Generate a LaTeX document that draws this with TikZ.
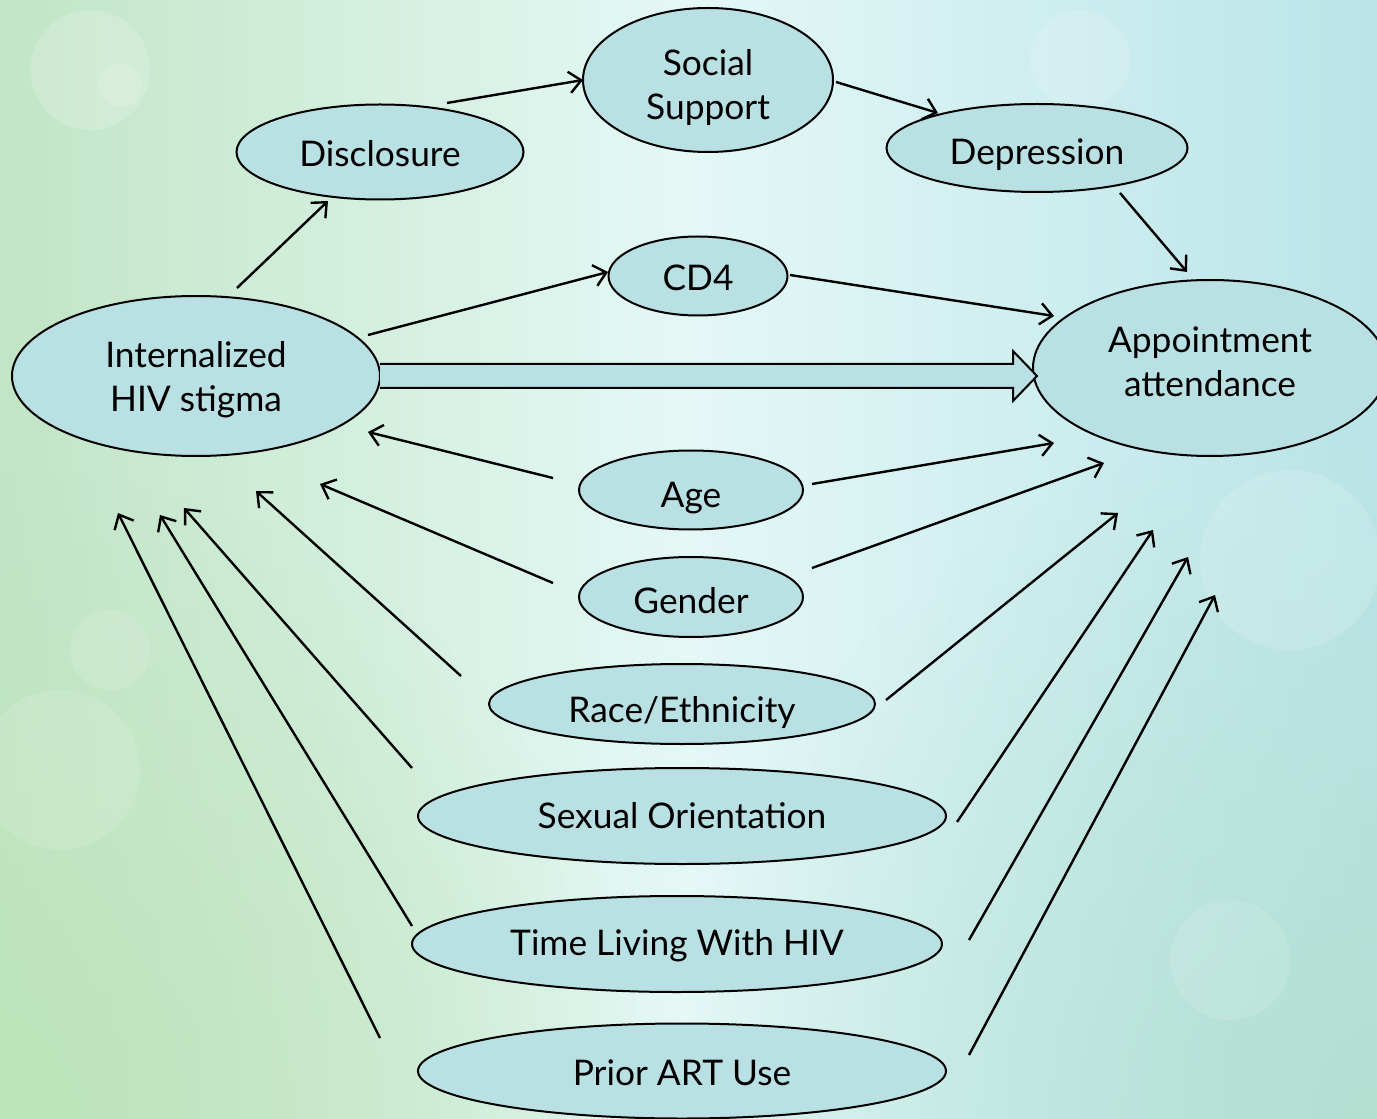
\documentclass[tikz,border=0pt]{standalone}
\usepackage{fontspec}
\setmainfont{Lato}
\usetikzlibrary{shapes.geometric,arrows.meta,fadings}
\definecolor{nodefill}{RGB}{185,224,227}
\definecolor{bgleft}{RGB}{193,229,197}
\definecolor{bgmid}{RGB}{228,248,246}
\definecolor{bgright}{RGB}{186,228,232}
\definecolor{bgbr}{RGB}{180,224,210}
\definecolor{bgbl}{RGB}{190,228,185}
\tikzfading[name=softfade, inner color=transparent!0, outer color=transparent!100]
\tikzset{
  oval/.style={ellipse, draw=black, line width=1.5pt, fill=nodefill, inner sep=0pt, outer sep=0pt},
  lbl/.style={align=center, font=\fontsize{26.5}{33}\selectfont, inner sep=0pt},
  sz/.style 2 args={minimum width={#1*0.75pt}, minimum height={#2*0.75pt}},
  arr/.style={-{Straight Barb[length=9pt,width=16pt,line width=1.8pt]}, line width=1.8pt},
}
\begin{document}
\begin{tikzpicture}[x=0.75pt,y=-0.75pt]
\useasboundingbox (0,0) rectangle (1377,1119);
\begin{scope}
\clip (0,0) rectangle (1377,1119);
\shade[left color=bgleft, right color=bgright, middle color=bgmid] (0,0) rectangle (1377,1119);
\fill[bgbr, path fading=softfade] (1377,1119) circle (700);
\fill[bgbl, path fading=softfade] (0,1119) circle (650);
\fill[white, opacity=0.18] (90,70) circle (60);
\fill[white, opacity=0.15] (120,85) circle (22);
\fill[white, opacity=0.15] (1080,60) circle (50);
\fill[white, opacity=0.15] (1290,560) circle (90);
\fill[white, opacity=0.12] (1230,960) circle (60);
\fill[white, opacity=0.12] (110,650) circle (40);
\fill[white, opacity=0.12] (60,770) circle (80);

% nodes
\node[oval, sz={287}{95}, label={[lbl, yshift=-1.5pt]center:Disclosure}] (dis) at (380,152) {};
\node[oval, sz={250}{144}, label={[lbl, yshift=-6pt]center:{Social\\Support}}] (soc) at (708,80) {};
\node[oval, sz={301}{88}, label={[lbl, yshift=-5pt]center:Depression}] (dep) at (1037,148) {};
\node[oval, sz={179}{79}, label={[lbl, yshift=-1.5pt]center:CD4}] (cd4) at (698,276) {};
\node[oval, sz={368}{160}, label={[lbl, yshift=-2.5pt]center:{Internalized\\HIV stigma}}] (ist) at (196,376) {};
\node[oval, sz={354}{176}, label={[lbl, yshift=4.5pt]center:{Appointment\\attendance}}] (app) at (1210,368) {};
\node[oval, sz={224}{79}, label={[lbl, yshift=-6pt]center:Age}] (age) at (691,490) {};
\node[oval, sz={224}{80}, label={[lbl, yshift=-3pt]center:Gender}] (gen) at (691,597) {};
\node[oval, sz={386}{80}, label={[lbl, yshift=-6.5pt]center:Race/Ethnicity}] (race) at (682,704) {};
\node[oval, sz={528}{96}, label={[lbl]center:Sexual Orientation}] (sex) at (682,816) {};
\node[oval, sz={530}{96}, label={[lbl, yshift=-1.5pt]center:Time Living With HIV}] (time) at (677,944) {};
\node[oval, sz={528}{95}, label={[lbl, yshift=-1pt]center:Prior ART Use}] (art) at (682,1071) {};

% connector end points
\coordinate (disS) at (447,103); \coordinate (socW) at (583,80);
\coordinate (socE) at (836,82); \coordinate (depW) at (938,113);
\coordinate (depS) at (1120,193); \coordinate (appN) at (1187,272);
\coordinate (istN) at (237,288); \coordinate (disSW) at (328,201);
\coordinate (istNE) at (368,335); \coordinate (cd4W) at (608,272);
\coordinate (cd4E) at (790,275); \coordinate (appNW) at (1054,316);
\coordinate (ageW) at (553,478); \coordinate (istA) at (368,432);
\coordinate (ageE) at (812,484); \coordinate (appA) at (1054,443);
\coordinate (genW) at (553,583); \coordinate (istB) at (320,484);
\coordinate (genE) at (812,568); \coordinate (appB) at (1104,463);
\coordinate (raceW) at (461,676); \coordinate (istC) at (256,491);
\coordinate (raceE) at (886,700); \coordinate (appC) at (1118,513);
\coordinate (sexW) at (412,768); \coordinate (istD) at (184,508);
\coordinate (sexE) at (957,822); \coordinate (appD) at (1153,530);
\coordinate (timeW) at (412,926); \coordinate (istE) at (160,515);
\coordinate (timeE) at (969,940); \coordinate (appE) at (1188,557);
\coordinate (artW) at (380,1038); \coordinate (istF) at (118,513);
\coordinate (artE) at (969,1055); \coordinate (appF) at (1215,595);

\draw[arr] (disS) -- (socW);
\draw[arr] (socE) -- (depW);
\draw[arr] (depS) -- (appN);
\draw[arr] (istN) -- (disSW);
\draw[arr] (istNE) -- (cd4W);
\draw[arr] (cd4E) -- (appNW);
\draw[arr] (ageW) -- (istA);
\draw[arr] (ageE) -- (appA);
\draw[arr] (genW) -- (istB);
\draw[arr] (genE) -- (appB);
\draw[arr] (raceW) -- (istC);
\draw[arr] (raceE) -- (appC);
\draw[arr] (sexW) -- (istD);
\draw[arr] (sexE) -- (appD);
\draw[arr] (timeW) -- (istE);
\draw[arr] (timeE) -- (appE);
\draw[arr] (artW) -- (istF);
\draw[arr] (artE) -- (appF);

% big block arrow
\draw[line width=1.5pt, fill=nodefill, line join=miter]
  (ist.east |- 0,364) -- (1013,364) -- (1013,351) -- (1037,376) -- (1013,401) -- (1013,388) -- (ist.east |- 0,388);
\end{scope}
\end{tikzpicture}
\end{document}
